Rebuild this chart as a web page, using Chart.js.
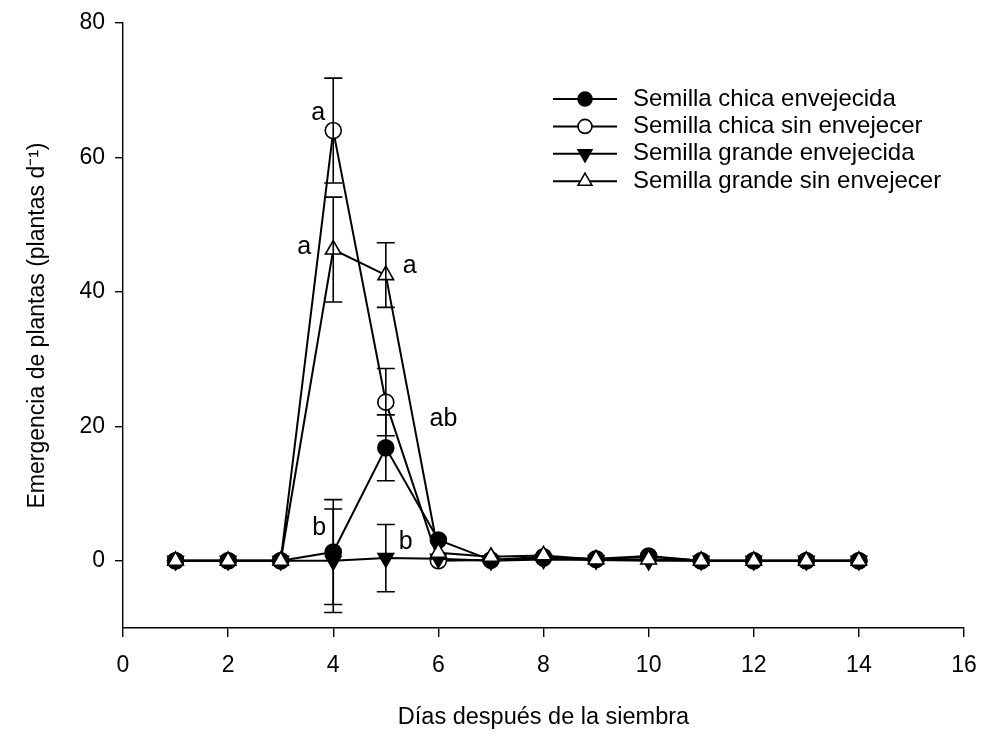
<!DOCTYPE html>
<html>
<head>
<meta charset="utf-8">
<script src="https://cdn.jsdelivr.net/npm/chart.js@4.4.1/dist/chart.umd.min.js"></script>
<style>
  html, body { margin: 0; padding: 0; background: #fff; }
</style>
</head>
<body>
<canvas id="emergenceChart" width="982" height="737"></canvas>
<script>
// Days after sowing
const days = [1, 2, 3, 4, 5, 6, 7, 8, 9, 10, 11, 12, 13, 14];

// Plant emergence (plants per day) for each seed treatment
const chicaEnv = [0, 0, 0, 1.3, 16.8, 3.1, 0.1, 0.4, 0.3, 0.7, 0, 0, 0, 0];
const chicaSin = [0, 0, 0, 64, 23.6, 0, 0.1, 0.6, 0.2, 0.6, 0, 0, 0, 0];
const grandeEnv = [0, 0, 0, 0, 0.4, 0.3, 0, 0.2, 0.1, 0, 0, 0, 0, 0];
const grandeSin = [0, 0, 0, 46.3, 42.5, 1.2, 0.6, 0.8, 0.2, 0.2, 0, 0, 0, 0];

// Error bar half-lengths
const chicaEnvErr = [0, 0, 0, 7.8, 4.9, 0, 0, 0, 0, 0, 0, 0, 0, 0];
const chicaSinErr = [0, 0, 0, 7.8, 5.0, 0, 0, 0, 0, 0, 0, 0, 0, 0];
const grandeEnvErr = [0, 0, 0, 7.7, 5.0, 0, 0, 0, 0, 0, 0, 0, 0, 0];
const grandeSinErr = [0, 0, 0, 7.8, 4.8, 0, 0, 0, 0, 0, 0, 0, 0, 0];

const seriesNames = [
  'Semilla chica envejecida',
  'Semilla chica sin envejecer',
  'Semilla grande envejecida',
  'Semilla grande sin envejecer'
];

const xTicks = [0, 2, 4, 6, 8, 10, 12, 14, 16];
const yTicks = [0, 20, 40, 60, 80];

// significance letters: dataset index, day index, text
const sigLetters = [
  { ds: 1, i: 3, text: 'a' },
  { ds: 3, i: 3, text: 'a' },
  { ds: 3, i: 4, text: 'a' },
  { ds: 3, i: 5, text: 'ab' },
  { ds: 0, i: 3, text: 'b' },
  { ds: 2, i: 4, text: 'b' }
];
// pixel offsets of the letters from their points
const letterOffsets = [[-15, -17], [-29, -2], [24, -9], [5, -134], [-14, -24], [20, -16]];

// draw stacking (lower = on top)
const drawOrder = [3, 4, 2, 1];

const FONT = "'Liberation Sans', Arial, sans-serif";

function toPoints(vals) {
  return days.map((d, i) => ({ x: d, y: vals[i] }));
}

const errorBars = {
  id: 'errorBars',
  afterDatasetsDraw(chart) {
    const { ctx, scales: { x, y } } = chart;
    ctx.save();
    ctx.strokeStyle = '#000';
    ctx.lineWidth = 1.6;
    chart.data.datasets.forEach(ds => {
      ds.errors.forEach((e, i) => {
        if (!e) return;
        const px = x.getPixelForValue(days[i]);
        const top = y.getPixelForValue(ds.data[i].y + e);
        const bot = y.getPixelForValue(ds.data[i].y - e);
        ctx.beginPath();
        ctx.moveTo(px, top); ctx.lineTo(px, bot);
        ctx.moveTo(px - 9, top); ctx.lineTo(px + 9, top);
        ctx.moveTo(px - 9, bot); ctx.lineTo(px + 9, bot);
        ctx.stroke();
      });
    });
    ctx.restore();
  }
};

const letters = {
  id: 'letters',
  afterDraw(chart) {
    const ctx = chart.ctx;
    ctx.save();
    ctx.fillStyle = '#000';
    ctx.font = '25px ' + FONT;
    ctx.textAlign = 'center';
    ctx.textBaseline = 'middle';
    sigLetters.forEach((l, k) => {
      const pt = chart.getDatasetMeta(l.ds).data[l.i];
      ctx.fillText(l.text, pt.x + letterOffsets[k][0], pt.y + letterOffsets[k][1]);
    });
    ctx.restore();
  }
};

const sideLegend = {
  id: 'sideLegend',
  afterDraw(chart) {
    const ctx = chart.ctx;
    chart.data.datasets.forEach((ds, i) => {
      const yy = 99 + i * 27.4;
      ctx.save();
      ctx.strokeStyle = '#000';
      ctx.lineWidth = 2;
      ctx.beginPath();
      ctx.moveTo(553, yy);
      ctx.lineTo(617, yy);
      ctx.stroke();
      ctx.fillStyle = ds.pointBackgroundColor;
      ctx.lineWidth = 1.6;
      Chart.helpers.drawPoint(ctx, {
        pointStyle: ds.pointStyle,
        rotation: ds.pointRotation || 0,
        radius: ds.pointStyle === 'circle' ? 7 : 8,
        borderWidth: 1.6
      }, 585, yy);
      ctx.fillStyle = '#000';
      ctx.font = '24px ' + FONT;
      ctx.textAlign = 'left';
      ctx.textBaseline = 'middle';
      ctx.fillText(ds.label, 633, yy);
      ctx.restore();
    });
  }
};

function makeSet(i, vals, errs, style, fill, rot) {
  return {
    label: seriesNames[i],
    data: toPoints(vals),
    errors: errs,
    order: drawOrder[i],
    borderColor: '#000',
    borderWidth: 2,
    pointStyle: style,
    pointRotation: rot || 0,
    pointRadius: style === 'circle' ? 8 : 9,
    pointBackgroundColor: fill,
    pointBorderColor: '#000',
    pointBorderWidth: 1.6,
    tension: 0
  };
}

const ctx = document.getElementById('emergenceChart').getContext('2d');

const emergenceChart = new Chart(ctx, {
  type: 'line',
  data: {
    datasets: [
      makeSet(0, chicaEnv, chicaEnvErr, 'circle', '#000'),
      makeSet(1, chicaSin, chicaSinErr, 'circle', '#fff'),
      makeSet(2, grandeEnv, grandeEnvErr, 'triangle', '#000', 180),
      makeSet(3, grandeSin, grandeSinErr, 'triangle', '#fff')
    ]
  },
  options: {
    responsive: false,
    animation: false,
    layout: { padding: { left: 0, top: 23, right: 18, bottom: 0 } },
    plugins: {
      legend: { display: false },
      tooltip: { enabled: false }
    },
    scales: {
      x: {
        type: 'linear',
        min: 0,
        max: 16,
        afterBuildTicks(scale) { scale.ticks = xTicks.map(v => ({ value: v })); },
        afterFit(scale) {
          scale.height = 109;
          scale.paddingLeft = 0;
          scale.paddingRight = 0;
        },
        grid: { drawOnChartArea: false, drawTicks: true, tickLength: 9, color: '#000', lineWidth: 1.4 },
        border: { color: '#000', width: 1.4 },
        ticks: { color: '#000', font: { family: FONT, size: 23 }, padding: 15, maxRotation: 0 },
        title: {
          display: true,
          text: 'Días después de la siembra',
          color: '#000',
          font: { family: FONT, size: 23.5 },
          padding: { top: 0, bottom: 5 }
        }
      },
      y: {
        type: 'linear',
        min: -10,
        max: 80,
        afterBuildTicks(scale) { scale.ticks = yTicks.map(v => ({ value: v })); },
        afterFit(scale) {
          scale.width = 123;
          scale.paddingTop = 0;
          scale.paddingBottom = 0;
        },
        grid: { drawOnChartArea: false, drawTicks: true, tickLength: 8, color: '#000', lineWidth: 1.4 },
        border: { color: '#000', width: 1.4 },
        ticks: { color: '#000', font: { family: FONT, size: 23 }, padding: 10 },
        title: {
          display: true,
          text: 'Emergencia de plantas (plantas d\u207B\u00B9)',
          color: '#000',
          font: { family: FONT, size: 23 },
          padding: { top: 24, bottom: 0 }
        }
      }
    }
  },
  plugins: [errorBars, letters, sideLegend]
});
</script>
</body>
</html>
